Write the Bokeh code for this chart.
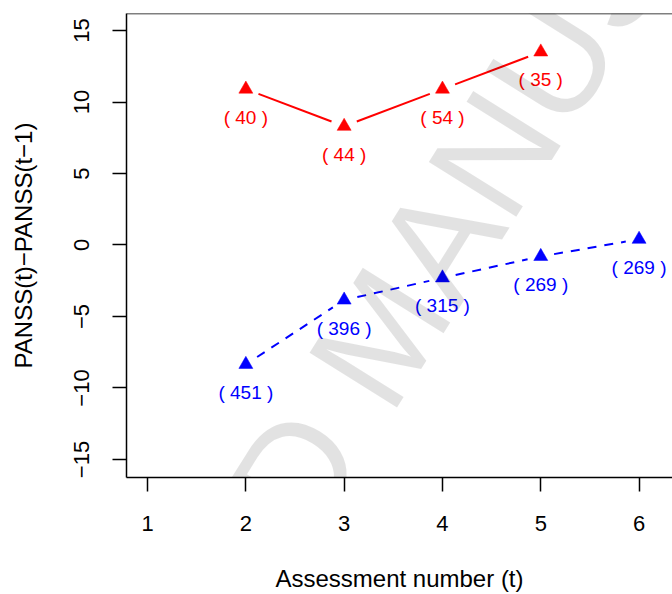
import math
from bokeh.plotting import figure
from bokeh.models import FixedTicker, Range1d, Label, Span, ColumnDataSource
from bokeh.core.properties import value
from bokeh.embed import file_html
from bokeh.resources import INLINE

# ---- data ----
red_x = [2, 3, 4, 5]
red_y = [10.9, 8.3, 10.9, 13.5]
red_n = ["( 40 )", "( 44 )", "( 54 )", "( 35 )"]

blue_x = [2, 3, 4, 5, 6]
blue_y = [-8.35, -3.85, -2.3, -0.8, 0.4]
blue_n = ["( 451 )", "( 396 )", "( 315 )", "( 269 )", "( 269 )"]

x_ticks = [1, 2, 3, 4, 5, 6]
y_ticks = [-15, -10, -5, 0, 5, 10, 15]
y_tick_labels = ["\u221215", "\u221210", "\u22125", "0", "5", "10", "15"]

FONT = "Liberation Sans"
W, H = 672, 594
BL, BR, BT, BB = 126, 0, 13, 116
X0, X1 = 0.786, 6.340
Y0, Y1 = -16.26, 16.19

p = figure(width=W, height=H, output_backend="svg", toolbar_location=None,
           x_range=Range1d(X0, X1), y_range=Range1d(Y0, Y1),
           min_border_left=BL, min_border_right=BR, min_border_top=BT,
           min_border_bottom=BB)
p.outline_line_color = None
p.grid.visible = False
p.background_fill_color = "white"
p.border_fill_color = "white"

# axes
for ax in (p.xaxis[0], p.yaxis[0]):
    ax.axis_line_width = 1.5
    ax.axis_line_color = "black"
    ax.major_tick_line_width = 1.5
    ax.major_tick_line_color = "black"
    ax.major_tick_out = 14
    ax.major_tick_in = 0
    ax.minor_tick_line_color = None
    ax.major_label_text_font = FONT
    ax.major_label_text_font_size = "22px"
    ax.major_label_text_color = "black"
    ax.axis_label_text_font = FONT
    ax.axis_label_text_font_size = "24px"
    ax.axis_label_text_font_style = "normal"
    ax.axis_label_text_color = "black"

p.xaxis.ticker = FixedTicker(ticks=x_ticks)
p.xaxis.major_label_standoff = 24
p.xaxis.axis_label = "Assessment number (t)"
p.xaxis.axis_label_standoff = 31

p.yaxis.ticker = FixedTicker(ticks=y_ticks)
p.yaxis.major_label_overrides = {t: l for t, l in zip(y_ticks, y_tick_labels)}
p.yaxis.major_label_orientation = "vertical"
p.yaxis.major_label_standoff = 23
p.yaxis.axis_label = "PANSS(t)\u2212PANSS(t\u22121)"
p.yaxis.axis_label_standoff = 35

# top box line
p.add_layout(Span(location=Y1, dimension="width", line_color="black", line_width=1.5))

# segments with gaps (like R type="b")
fw = W - BL - BR
fh = H - BT - BB
sx = fw / (X1 - X0)
sy = fh / (Y1 - Y0)
GAP = 13.5


def gapped(xs, ys):
    a0, b0, a1, b1 = [], [], [], []
    for i in range(len(xs) - 1):
        dx = (xs[i + 1] - xs[i]) * sx
        dy = (ys[i + 1] - ys[i]) * sy
        f = GAP / math.hypot(dx, dy)
        ex = xs[i + 1] - xs[i]
        ey = ys[i + 1] - ys[i]
        a0.append(xs[i] + f * ex)
        b0.append(ys[i] + f * ey)
        a1.append(xs[i + 1] - f * ex)
        b1.append(ys[i + 1] - f * ey)
    return a0, b0, a1, b1


ra = gapped(red_x, red_y)
p.segment(x0=ra[0], y0=ra[1], x1=ra[2], y1=ra[3], line_color="#ff0000", line_width=2)
ba = gapped(blue_x, blue_y)
p.segment(x0=ba[0], y0=ba[1], x1=ba[2], y1=ba[3], line_color="#0000ff", line_width=2,
          line_dash="9 8")

rs = ColumnDataSource(dict(x=red_x, y=red_y, t=red_n))
bs = ColumnDataSource(dict(x=blue_x, y=blue_y, t=blue_n))
p.scatter("x", "y", source=rs, marker="triangle", size=14, fill_color="#ff0000",
          line_color="#ff0000", line_width=0.5)
p.scatter("x", "y", source=bs, marker="triangle", size=14, fill_color="#0000ff",
          line_color="#0000ff", line_width=0.5)

p.text("x", "y", text="t", source=rs, y_offset=28, text_align="center",
       text_baseline="middle", text_font=value(FONT), text_font_size="19px",
       text_color="#ff0000")
p.text("x", "y", text="t", source=bs, y_offset=28, text_align="center",
       text_baseline="middle", text_font=value(FONT), text_font_size="19px",
       text_color="#0000ff")

# watermark (screen units relative to the plot frame)
wm = Label(x=-235, y=-641, x_units="screen", y_units="screen",
           text="ACCEPTED MANUSCRIPT", angle=58, angle_units="deg",
           text_font=FONT, text_font_size="150px",
           text_color="black", text_alpha=0.115,
           text_align="left", text_baseline="middle", level="overlay")
p.add_layout(wm)

open("out.html", "w").write(file_html(p, INLINE))
